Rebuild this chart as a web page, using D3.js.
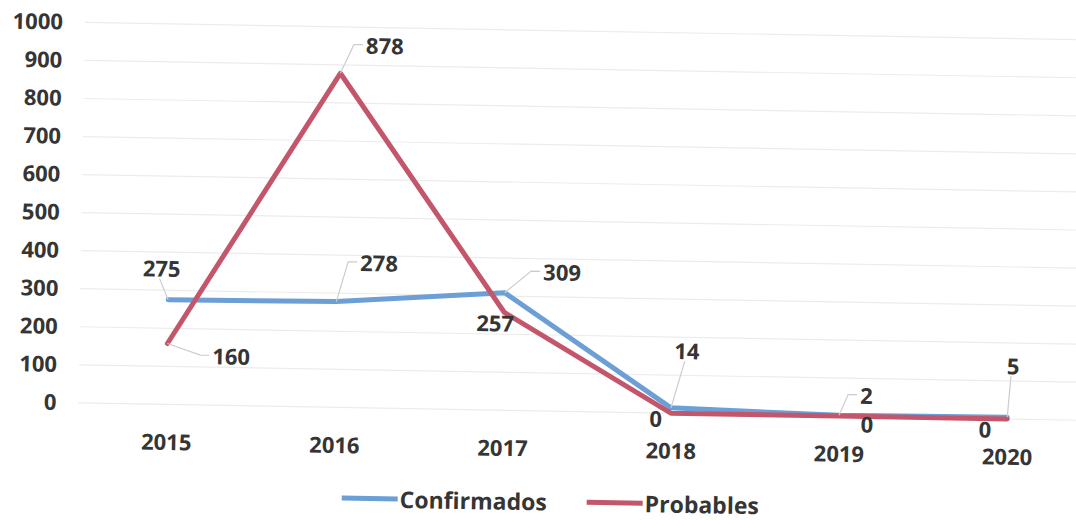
<!DOCTYPE html>
<html>
<head>
<meta charset="utf-8">
<script src="https://cdn.jsdelivr.net/npm/d3@7"></script>
<style>
  html, body { margin: 0; padding: 0; background: #ffffff; }
  svg { display: block; }
  text { font-family: "Open Sans", "DejaVu Sans", sans-serif; font-weight: 700; fill: #353535; }
</style>
</head>
<body>
<svg id="chart" width="1076" height="520"></svg>
<script>
// ---- data ----
const years = ["2015", "2016", "2017", "2018", "2019", "2020"];
const confirmados = [275, 278, 309, 14, 2, 5];
const probables = [160, 878, 257, 0, 0, 0];
const yTicks = [0, 100, 200, 300, 400, 500, 600, 700, 800, 900, 1000];
const seriesNames = ["Confirmados", "Probables"];

// ---- styling / label placement (offsets relative to each point, in px) ----
const colors = ["#6c9fd6", "#c4566b"];
const labelOffsets = [
  [[-7, -32, true], [42, -40, true], [57, -22, true], [15, -58, true], [27, -21, true], [5, -52, true]],
  [[64, 11, true], [44, -29, true], [-9, 10, false], [-15, 5, false], [28, 7, false], [-22, 10, false]]
];

const svg = d3.select("#chart");
const root = svg.append("g").attr("transform", "rotate(1, 62, 22)");

const x = d3.scalePoint().domain(years).range([173, 1014]);
const y = d3.scaleLinear().domain([0, 1000]).range([402.5, 22]);

// gridlines
root.append("g")
  .selectAll("line")
  .data(yTicks)
  .join("line")
  .attr("x1", 85).attr("x2", 1110)
  .attr("y1", d => y(d)).attr("y2", d => y(d))
  .attr("stroke", "#ececec").attr("stroke-width", 1.2);

// y axis
const yAxis = root.append("g")
  .attr("transform", "translate(70,0)")
  .call(d3.axisLeft(y).tickValues(yTicks).tickSize(0).tickPadding(7).tickFormat(d3.format("d")));
yAxis.select(".domain").remove();
yAxis.selectAll("text").style("font-size", "22px").attr("fill", "#353535");

// x axis
const xAxis = root.append("g")
  .attr("transform", `translate(0,${y(0)})`)
  .call(d3.axisBottom(x).tickSize(0).tickPadding(30));
xAxis.select(".domain").remove();
xAxis.selectAll("text").style("font-size", "22px").attr("fill", "#353535");

const allSeries = [confirmados, probables];
const line = d3.line().x((d, i) => x(years[i])).y(d => y(d));

// lines
allSeries.forEach((vals, s) => {
  root.append("path")
    .datum(vals)
    .attr("d", line)
    .attr("fill", "none")
    .attr("stroke", colors[s])
    .attr("stroke-width", 5)
    .attr("stroke-linejoin", "round")
    .attr("stroke-linecap", "round");
});

// leader lines + labels
const labelG = root.append("g");
allSeries.forEach((vals, s) => {
  vals.forEach((v, i) => {
    const px = x(years[i]), py = y(v);
    const [dx, dy, leader] = labelOffsets[s][i];
    const lx = px + dx, ly = py + dy;
    const txt = String(v);
    const w = txt.length * 12.6;
    if (leader) {
      let pts;
      if (Math.abs(dx) > 20) {
        const left = lx - w / 2 - 3;
        pts = [[px, py], [left - 9, ly], [left, ly]];
      } else {
        pts = [[px, py], [lx - 2, ly + 11]];
      }
      labelG.append("path")
        .attr("d", d3.line()(pts))
        .attr("fill", "none")
        .attr("stroke", "#cccccc")
        .attr("stroke-width", 1.2);
    }
    labelG.append("text")
      .attr("x", lx).attr("y", ly)
      .attr("text-anchor", "middle")
      .attr("dominant-baseline", "central")
      .style("font-size", "22px")
      .text(txt);
  });
});

// legend
const legend = root.append("g");
const legendX = [350, 595];
seriesNames.forEach((name, s) => {
  const g = legend.append("g").attr("transform", `translate(${legendX[s]},493)`);
  g.append("line").attr("x1", 0).attr("x2", 56).attr("y1", 0).attr("y2", 0)
    .attr("stroke", colors[s]).attr("stroke-width", 5);
  g.append("text").attr("x", 58).attr("y", 0)
    .attr("dominant-baseline", "central")
    .style("font-size", "23px")
    .text(name);
});
</script>
</body>
</html>
